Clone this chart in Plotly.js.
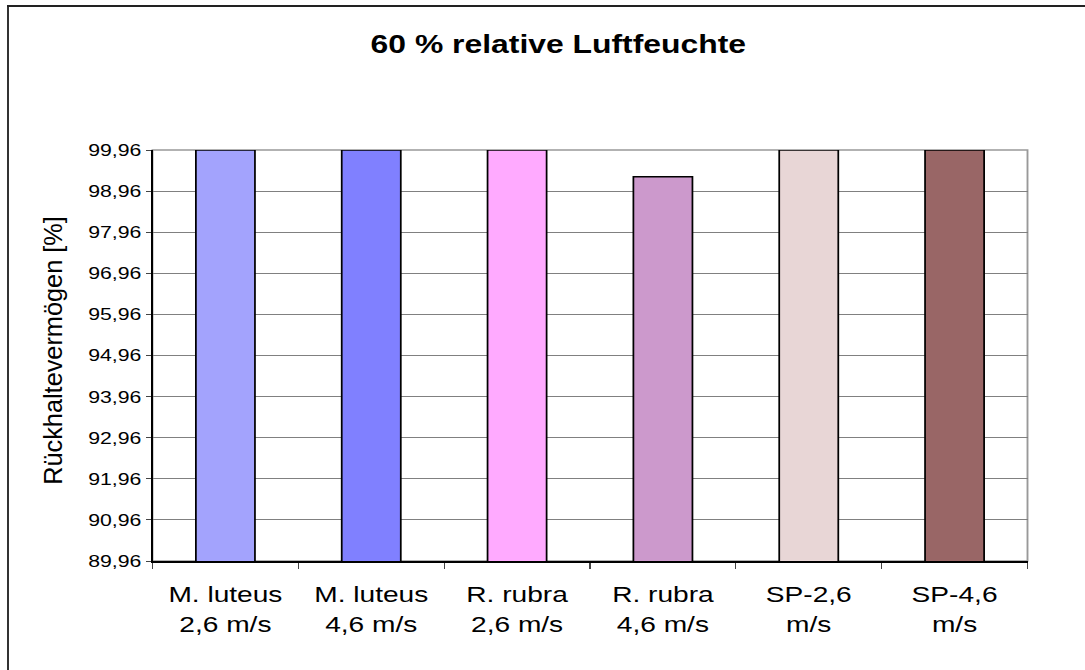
<!DOCTYPE html>
<html>
<head>
<meta charset="utf-8">
<script src="https://cdn.plot.ly/plotly-3.0.1.min.js"></script>
<style>
  html, body { margin: 0; padding: 0; background: #fff; overflow: hidden; width: 1085px; height: 670px; }
  #wrap { position: absolute; left: 0; top: 0; width: 868px; height: 670px; transform: scaleX(1.25); transform-origin: 0 0; }
  #chart { width: 868px; height: 670px; }
  #frameL { position: absolute; left: 7px; top: 5px; width: 2px; height: 700px; background: #333; }
  #frameT { position: absolute; left: 7px; top: 5px; width: 1100px; height: 1.5px; background: #222; }
</style>
</head>
<body>
<div id="wrap"><div id="chart"></div></div>
<div id="frameL"></div>
<div id="frameT"></div>
<script>
const categories = ['M. luteus<br>2,6 m/s', 'M. luteus<br>4,6 m/s', 'R. rubra<br>2,6 m/s', 'R. rubra<br>4,6 m/s', 'SP-2,6<br>m/s', 'SP-4,6<br>m/s'];
const values = [99.96, 99.96, 99.96, 99.31, 99.96, 99.96];
const yTickVals = [89.96, 90.96, 91.96, 92.96, 93.96, 94.96, 95.96, 96.96, 97.96, 98.96, 99.96];
const yTickText = ['89,96', '90,96', '91,96', '92,96', '93,96', '94,96', '95,96', '96,96', '97,96', '98,96', '99,96'];
const barColors = ['#A3A3FD', '#8080FF', '#FFAAFF', '#CC99CC', '#E8D6D6', '#996666'];
const chartTitle = '60 % relative Luftfeuchte';
const yTitle = 'Rückhaltevermögen [%]';

const font = '"Liberation Sans", Arial, sans-serif';

const trace = {
  type: 'bar',
  x: categories,
  y: values,
  marker: { color: barColors, line: { color: '#000', width: 1.4 } },
  hoverinfo: 'skip'
};

const layout = {
  width: 868, height: 670,
  paper_bgcolor: '#fff', plot_bgcolor: '#fff',
  margin: { l: 122, r: 46, t: 150, b: 109, pad: 0 },
  bargap: 0.595,
  showlegend: false,
  font: { family: font, color: '#000' },
  title: {
    text: '<b>' + chartTitle + '</b>',
    font: { family: font, size: 25.5, color: '#000' },
    xref: 'container', yref: 'container',
    x: 0.5146, y: 0.934, xanchor: 'center', yanchor: 'middle'
  },
  xaxis: {
    type: 'category',
    range: [-0.5, 5.5],
    tickson: 'boundaries',
    ticks: 'outside', ticklen: 6, tickwidth: 1, tickcolor: '#444',
    showline: true, linecolor: '#000', linewidth: 1.5,
    showgrid: false, zeroline: false,
    tickfont: { family: font, size: 22.5, color: '#000' },
    ticklabelstandoff: 13,
    fixedrange: true
  },
  yaxis: {
    range: [89.96, 99.96],
    tickmode: 'array', tickvals: yTickVals, ticktext: yTickText,
    ticks: 'outside', ticklen: 4.2, tickwidth: 1, tickcolor: '#444',
    showline: true, linecolor: '#000', linewidth: 1.3,
    showgrid: true, gridcolor: '#808080', gridwidth: 1,
    zeroline: false,
    tickfont: { family: font, size: 17, color: '#000' },
    ticklabelstandoff: 4.5,
    title: { text: yTitle, font: { family: font, size: 25.3, color: '#000' }, standoff: 4 },
    fixedrange: true
  },
  shapes: [{
    type: 'rect', xref: 'paper', yref: 'paper', x0: 0, x1: 1, y0: 0, y1: 1,
    line: { color: '#999', width: 1.5 }, layer: 'below'
  }]
};

Plotly.newPlot('chart', [trace], layout, { staticPlot: true, displayModeBar: false }).then(function (gd) {
  const g = gd.querySelector('.g-ytitle');
  if (g) {
    const bb = g.getBBox();
    const cx = bb.x + bb.width / 2;
    const cy = bb.y + bb.height / 2;
    const targetX = 42.2, targetY = 350.5;
    g.setAttribute('transform',
      'translate(' + targetX + ',' + targetY + ') scale(0.8,1) translate(' + (-cx) + ',' + (-cy) + ')');
  }
});
</script>
</body>
</html>
